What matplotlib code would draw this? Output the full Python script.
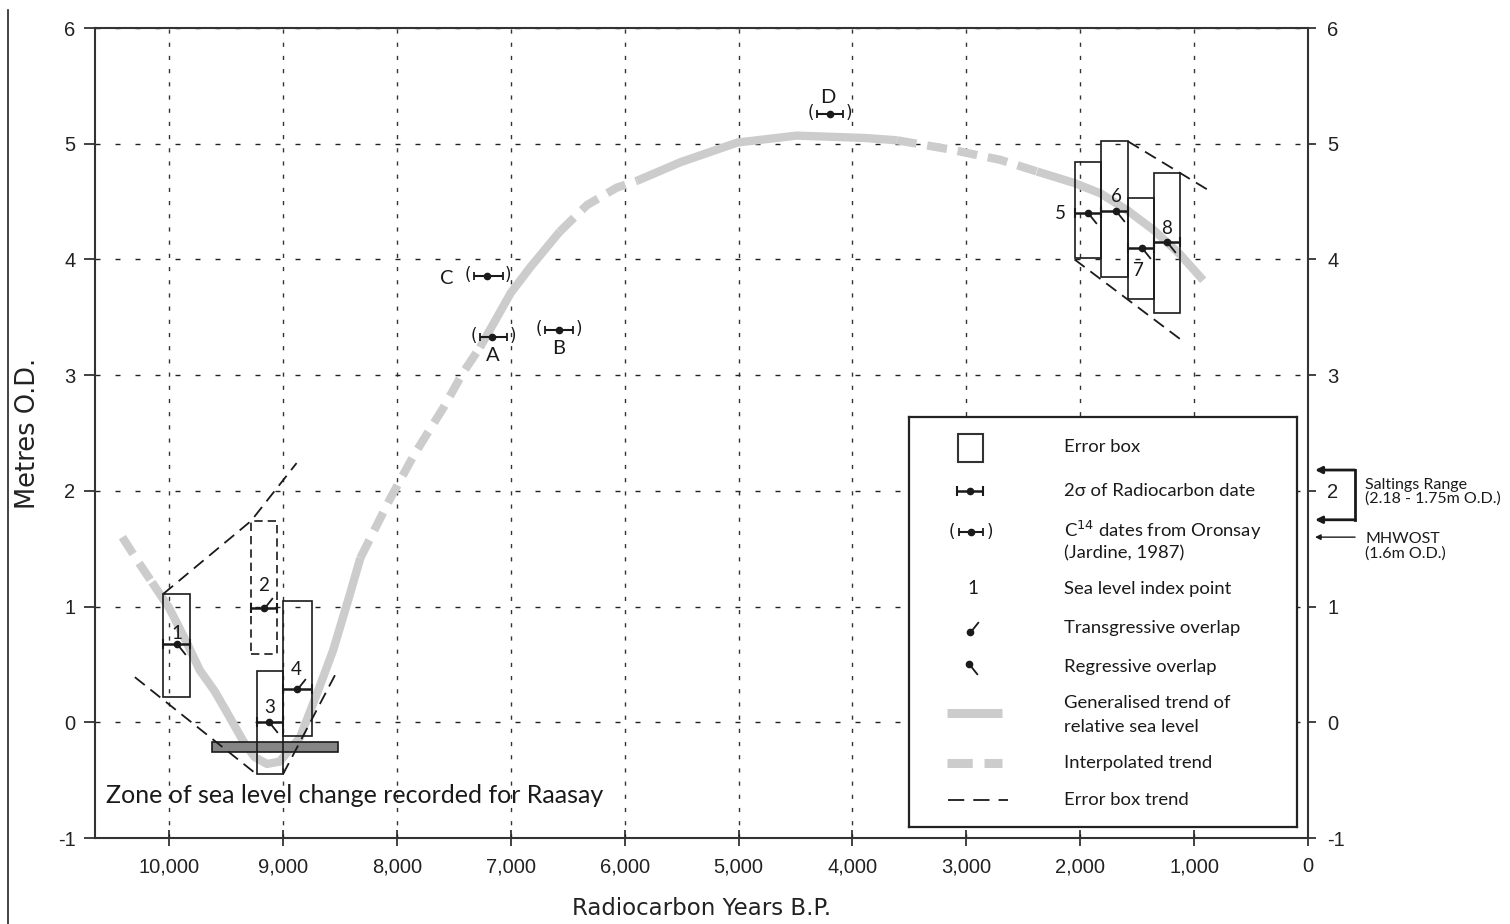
import matplotlib
matplotlib.use("Agg")
import matplotlib.pyplot as plt
from matplotlib.patches import Rectangle
from matplotlib.path import Path
from matplotlib.lines import Line2D
from matplotlib.transforms import blended_transform_factory

# generalised trend of relative sea level (radiocarbon years BP, metres OD)
trend_years = [10410, 10280, 10150, 10000, 9850, 9730, 9600, 9500, 9350, 9250,
               9140, 9030, 8850, 8700, 8560, 8420, 8320, 8060, 7850, 7590,
               7420, 7270, 7120, 7000, 6830, 6570, 6330, 6070, 5890, 5510,
               5010, 4490, 3900, 3610, 3140, 2700, 2380, 2050, 1820, 1580,
               1350, 1120, 920]
trend_metres = [1.60, 1.40, 1.21, 0.99, 0.70, 0.45, 0.27, 0.10, -0.16, -0.30,
                -0.36, -0.34, -0.13, 0.25, 0.62, 1.08, 1.42, 1.93, 2.31, 2.72,
                3.02, 3.24, 3.50, 3.71, 3.93, 4.24, 4.47, 4.62, 4.68, 4.84,
                5.01, 5.07, 5.05, 5.03, 4.95, 4.86, 4.76, 4.66, 4.57, 4.42,
                4.25, 4.04, 3.82]
# points where the trend switches interpolated <-> generalised (starts interpolated)
trend_breaks = [2, 16, 21, 25, 28, 33, 36]

# sea level index points: error boxes and 2 sigma dates
box_labels = ["1", "2", "3", "4", "5", "6", "7", "8"]
box_old = [10050, 9280, 9230, 9000, 2050, 1820, 1580, 1350]
box_young = [9820, 9050, 9000, 8745, 1820, 1580, 1350, 1120]
box_low = [0.22, 0.59, -0.45, -0.12, 4.01, 3.85, 3.66, 3.54]
box_high = [1.11, 1.74, 0.44, 1.05, 4.84, 5.02, 4.53, 4.75]
index_year = [9930, 9170, 9120, 8880, 1930, 1690, 1460, 1240]
index_height = [0.68, 0.99, 0.00, 0.29, 4.40, 4.42, 4.10, 4.15]
overlap = ["R", "T", "R", "T", "R", "R", "R", "R"]
box_dashed = [False, True, False, False, False, False, False, False]

# C14 dates from Oronsay (Jardine, 1987)
oronsay_labels = ["C", "A", "B", "D"]
oronsay_old = [7320, 7270, 6700, 4310]
oronsay_young = [7070, 7030, 6450, 4080]
oronsay_year = [7210, 7160, 6580, 4200]
oronsay_height = [3.86, 3.33, 3.39, 5.26]

# error box trend lines
trend_lines = [
    ([10050, 9280, 8880], [1.11, 1.74, 2.24]),
    ([10300, 9230], [0.39, -0.45]),
    ([9000, 8520], [-0.45, 0.45]),
    ([1580, 860], [5.02, 4.59]),
    ([2050, 1080], [4.00, 3.28]),
]

# zone of sea level change recorded for Raasay
zone_years = (9620, 8520)
zone_metres = (-0.26, -0.17)

saltings = (2.18, 1.75)
mhwost = 1.6

x_ticks = list(range(10000, -1, -1000))
y_ticks = list(range(-1, 7))

TREND = "#cccccc"
INK = "#1a1a1a"
plt.rcParams["font.family"] = ["DejaVu Sans"]
plt.rcParams["axes.unicode_minus"] = False
SANS = ["Lato", "DejaVu Sans"]

trans_mark = Path([(0, 0), (0.8, 1.0)], [Path.MOVETO, Path.LINETO])
regr_mark = Path([(0, 0), (0.8, -1.0)], [Path.MOVETO, Path.LINETO])

fig = plt.figure(figsize=(15.1, 9.24), dpi=100)
ax = fig.add_axes([95 / 1510, 86 / 924, 1213 / 1510, 810 / 924])
ax.set_xlim(10650, 0)
ax.set_ylim(-1, 6)

# grid
ax.xaxis.grid(True, ls=(0, (3, 6.5)), lw=1, color="#333")
ax.yaxis.grid(True, ls=(0, (3.6, 10.8)), lw=1, color="#222")

# trend
bounds = [0] + trend_breaks + [len(trend_years) - 1]
for k in range(len(bounds) - 1):
    i0, i1 = bounds[k], bounds[k + 1]
    ax.plot(trend_years[i0:i1 + 1], trend_metres[i0:i1 + 1], color=TREND, lw=6,
            ls=(0, (2.4, 1.3)) if k % 2 == 0 else "-",
            solid_capstyle="butt", dash_capstyle="butt", solid_joinstyle="round", zorder=2)

# zone bar
ax.add_patch(Rectangle((zone_years[0], zone_metres[0]), zone_years[1] - zone_years[0],
                       zone_metres[1] - zone_metres[0], fc="#858585", ec=INK, lw=1.2, zorder=3))
ax.text(10550, -0.63, "Zone of sea level change recorded for Raasay", family=SANS,
        fontsize=18, color=INK, ha="left", va="center", zorder=5)

# error box trends
for xs, ys in trend_lines:
    ax.plot(xs, ys, color=INK, lw=1.3, ls=(0, (7, 4)), zorder=3)

# error boxes
for i in range(len(box_labels)):
    ax.add_patch(Rectangle((box_old[i], box_low[i]), box_young[i] - box_old[i],
                           box_high[i] - box_low[i], fill=False, ec=INK, lw=1.2,
                           ls=(0, (5, 3)) if box_dashed[i] else "-", zorder=3))

lo = [index_year[i] - box_young[i] for i in range(len(box_labels))]
hi = [box_old[i] - index_year[i] for i in range(len(box_labels))]
ax.errorbar(index_year, index_height, xerr=[lo, hi], fmt="o", ms=4.5, color=INK,
            elinewidth=1.8, capsize=3.5, capthick=1.5, zorder=4)

for i in range(len(box_labels)):
    ax.plot(index_year[i], index_height[i], ls="none", marker=trans_mark if overlap[i] == "T" else regr_mark,
            ms=15, mec=INK, mfc="none", mew=1.3, zorder=4)

label_offsets = {"1": (0, 7), "2": (0, 16), "3": (0, 11), "4": (0, 14),
                 "5": (-20, 0), "6": (1, 10), "7": (-2, -16), "8": (0, 10)}
for i, lab in enumerate(box_labels):
    ax.annotate(lab, (index_year[i], index_height[i]), xytext=label_offsets[lab],
                textcoords="offset points", ha="center", va="center", family=SANS,
                fontsize=13.5, color=INK, zorder=5)

# Oronsay dates
lo = [oronsay_year[i] - oronsay_young[i] for i in range(len(oronsay_labels))]
hi = [oronsay_old[i] - oronsay_year[i] for i in range(len(oronsay_labels))]
ax.errorbar(oronsay_year, oronsay_height, xerr=[lo, hi], fmt="o", ms=4.5, color=INK,
            elinewidth=1.5, capsize=3, capthick=1.3, zorder=4)
oronsay_offsets = {"C": (-29, -2), "A": (0, -13), "B": (0, -13), "D": (-1, 11.5)}
for i, lab in enumerate(oronsay_labels):
    ax.annotate("(", (oronsay_old[i], oronsay_height[i]), xytext=(-4.5, 0.5),
                textcoords="offset points", ha="center", va="center", fontsize=12, color=INK)
    ax.annotate(")", (oronsay_young[i], oronsay_height[i]), xytext=(4, 0.5),
                textcoords="offset points", ha="center", va="center", fontsize=12, color=INK)
    ax.annotate(lab, (oronsay_year[i], oronsay_height[i]), xytext=oronsay_offsets[lab],
                textcoords="offset points", ha="center", va="center", family=SANS,
                fontsize=14.5, color=INK)

# axes styling
ax.set_xticks(x_ticks)
ax.set_xticklabels([f"{t:,}" for t in x_ticks])
ax.set_yticks(y_ticks)
for s in ax.spines.values():
    s.set_linewidth(1.5)
    s.set_color("#333")
ax.tick_params(axis="x", direction="inout", length=12, width=1.2, pad=8,
               labelsize=14.5, colors="#222", labelfontfamily="Liberation Sans")
ax.tick_params(axis="y", direction="out", length=8, width=1.2, pad=6, right=True,
               labelright=True, labelsize=14.5, colors="#222", labelfontfamily="Liberation Sans")
for t in ax.yaxis.get_major_ticks():
    t.tick2line.set_markersize(6)
ax.set_xlabel("Radiocarbon Years B.P.", fontsize=16.5, color="#222", labelpad=15)
ax.set_ylabel("Metres O.D.", fontsize=18.5, color="#222", labelpad=12)

# Saltings range / MHWOST annotation
bt = blended_transform_factory(ax.transAxes, ax.transData)
xa, xb = 1.0058, 1.0388
for y in saltings:
    ax.annotate("", xy=(xa, y), xycoords=bt, xytext=(xb, y), textcoords=bt,
                arrowprops=dict(arrowstyle="-|>", lw=2, color=INK, mutation_scale=10,
                                shrinkA=0, shrinkB=0), annotation_clip=False)
ax.plot([xb, xb], list(saltings), transform=bt, color=INK, lw=2, clip_on=False,
        solid_capstyle="projecting")
ax.annotate("", xy=(xa, mhwost), xycoords=bt, xytext=(xb, mhwost), textcoords=bt,
            arrowprops=dict(arrowstyle="-|>", lw=1, color=INK, mutation_scale=8,
                            shrinkA=0, shrinkB=0), annotation_clip=False)
ax.text(1.047, 1.99, "Saltings Range\n(2.18 - 1.75m O.D.)", transform=bt, family=SANS,
        fontsize=11.5, color=INK, ha="left", va="center", linespacing=1.0)
ax.text(1.047, 1.52, "MHWOST\n(1.6m O.D.)", transform=bt, family=SANS,
        fontsize=11.5, color=INK, ha="left", va="center", linespacing=1.0)

# legend (drawn in its own inset, coordinates in legend pixels)
lg = ax.inset_axes([0.6711, 0.01358, 0.3199, 0.5062], zorder=10)
lg.set_xlim(909, 1297)
lg.set_ylim(827, 417)
lg.set_xticks([])
lg.set_yticks([])
for s in lg.spines.values():
    s.set_linewidth(1.6)
    s.set_color("#222")
tx = 1064
lkw = dict(family=SANS, fontsize=13.3, color=INK, ha="left", va="center")
lg.add_patch(Rectangle((958, 434), 25, 28, fill=False, ec="#333", lw=1.5))
lg.text(tx, 447, "Error box", **lkw)
lg.errorbar([970], [491], xerr=[[13], [13]], fmt="o", ms=4.5, color=INK,
            elinewidth=1.8, capsize=3.5, capthick=1.5)
lg.text(tx, 491, "2\u03c3 of Radiocarbon date", **lkw)
lg.errorbar([971], [532], xerr=[[12], [12]], fmt="o", ms=4.5, color=INK,
            elinewidth=1.5, capsize=3, capthick=1.3)
lg.text(952, 532, "(", fontsize=12, color=INK, ha="center", va="center")
lg.text(990, 532, ")", fontsize=12, color=INK, ha="center", va="center")
lg.text(tx, 530, "C$^{14}$ dates from Oronsay", **lkw)
lg.text(tx, 553, "(Jardine, 1987)", **lkw)
lg.text(973, 589, "1", family=SANS, fontsize=13.5, color=INK, ha="center", va="center")
lg.text(tx, 589, "Sea level index point", **lkw)
lg.plot([970], [632], marker=trans_mark, ms=15, mec=INK, mfc="none", mew=1.3)
lg.plot([970], [632], "o", ms=4.5, color=INK)
lg.text(tx, 628, "Transgressive overlap", **lkw)
lg.plot([969], [664], marker=regr_mark, ms=15, mec=INK, mfc="none", mew=1.3)
lg.plot([969], [664], "o", ms=4.5, color=INK)
lg.text(tx, 667, "Regressive overlap", **lkw)
lg.plot([947, 1002], [713, 713], color=TREND, lw=6.5, solid_capstyle="butt")
lg.text(tx, 703, "Generalised trend of", **lkw)
lg.text(tx, 727, "relative sea level", **lkw)
lg.plot([947, 1002], [763, 763], color=TREND, lw=6.5, ls=(0, (2.8, 1.3)), dash_capstyle="butt")
lg.text(tx, 763, "Interpolated trend", **lkw)
lg.plot([948, 1008], [800, 800], color=INK, lw=1.3, ls=(0, (9, 5)))
lg.text(tx, 800, "Error box trend", **lkw)

# thin border line at left edge of the figure
fig.add_artist(Line2D([7.5 / 1510, 7.5 / 1510], [0, 1 - 10 / 924], color="#222", lw=1.2))

fig.savefig("out.png", dpi=100)
